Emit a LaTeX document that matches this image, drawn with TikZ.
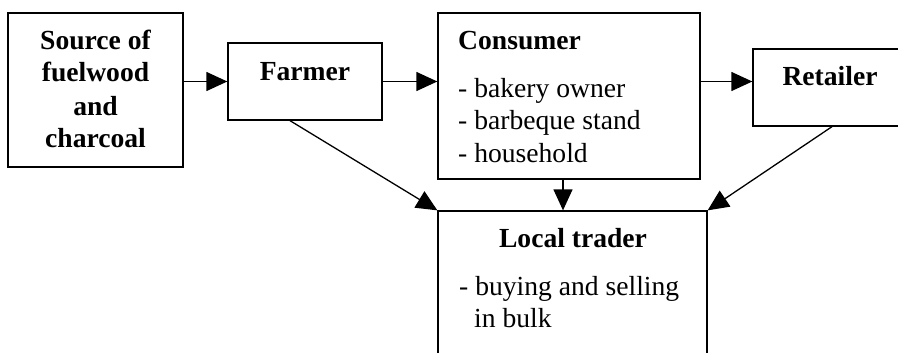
\documentclass[tikz,border=0pt]{standalone}
\usepackage{fontspec}
\setmainfont{Liberation Serif}
\usetikzlibrary{arrows.meta}
\begin{document}
\begin{tikzpicture}[x=1pt,y=-1pt,
  box/.style={draw,line width=1.3pt,inner sep=0pt},
  txt/.style={anchor=base,inner sep=0pt,font=\fontsize{27.6pt}{32pt}\selectfont},
  btxt/.style={txt,font=\fontsize{27.6pt}{32pt}\selectfont\bfseries},
  ltxt/.style={txt,anchor=base west},
  arr/.style={line width=1.3pt,-{Triangle[length=21pt,width=19pt]}}]
\useasboundingbox (0,0) rectangle (898,353);
\clip (0,0) rectangle (898,353);
\fill[white] (0,0) rectangle (898,353);
% boxes
\node[box,minimum width=175pt,minimum height=154pt] (src) at (95.5,90) {};
\node[box,minimum width=154pt,minimum height=77pt] (far) at (305,81.5) {};
\node[box,minimum width=262pt,minimum height=166pt] (cons) at (569,96) {};
\node[box,minimum width=158pt,minimum height=77pt] (ret) at (832,87.5) {};
\node[box,minimum width=269pt,minimum height=200pt] (lt) at (572.5,311) {};
% texts
\node[btxt] (s1) at (95.5,50) {Source of};
\node[btxt] (s2) at (95.5,82) {fuelwood};
\node[btxt] (s3) at (95.5,115) {and};
\node[btxt] (s4) at (95.5,147) {charcoal};
\node[btxt] (ft) at (305,81) {Farmer};
\node[btxt,anchor=base west] (ct) at (458,50) {Consumer};
\node[ltxt] (c1) at (458,98) {- bakery owner};
\node[ltxt] (c2) at (458,129) {- barbeque stand};
\node[ltxt] (c3) at (458,162) {- household};
\node[btxt] (rt) at (830,85) {Retailer};
\node[btxt] (lt1) at (573,247) {Local trader};
\node[ltxt] (l1) at (459,295) {- buying and selling};
\node[ltxt] (l2) at (474,327) {in bulk};
% connectors
\draw[arr] (src.east |- far.west) -- (far.west);
\draw[arr] (far.east) -- (cons.west |- far.east);
\draw[arr] (cons.east |- far.east) -- (ret.west |- far.east);
\draw[arr] ([xshift=-6pt]cons.south) -- ([xshift=-6pt]cons.south |- lt.north);
\draw[arr] ([xshift=-15pt]far.south) -- (lt.north west);
\draw[arr] (ret.south) -- (lt.north east);
\end{tikzpicture}
\end{document}
